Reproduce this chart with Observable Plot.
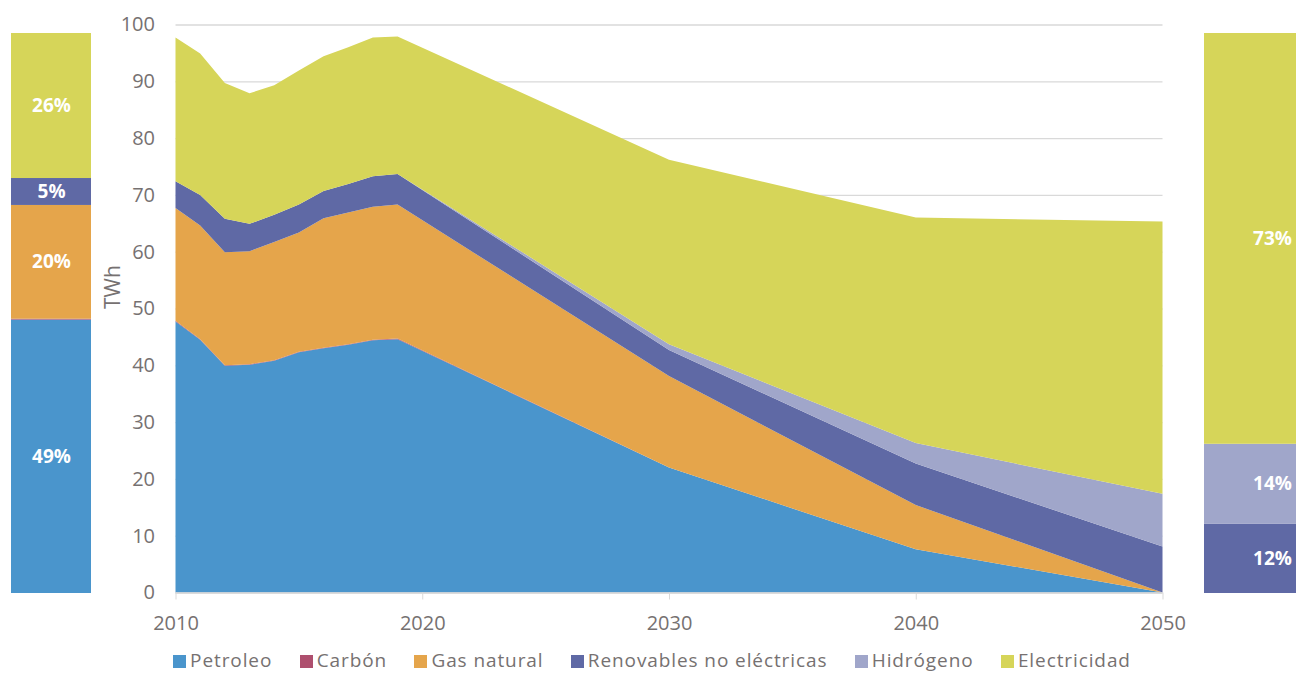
<!DOCTYPE html>
<html>
<head>
<meta charset="utf-8">
<script src="https://cdn.jsdelivr.net/npm/d3@7"></script>
<script src="https://cdn.jsdelivr.net/npm/@observablehq/plot@0.6"></script>
<style>
  html, body { margin: 0; padding: 0; background: #fff; }
  #wrap { position: relative; width: 1296px; height: 673px; overflow: hidden; font-family: "Open Sans", sans-serif; }
  #main { position: absolute; left: 0; top: 0; width: 1296px; }
  #left { position: absolute; left: 11px; top: 33px; width: 80px; }
  #right { position: absolute; left: 1204px; top: 33px; width: 136px; }
  #wrap svg { max-width: none !important; }
  #legend { position: absolute; left: 4px; top: 647px; width: 1296px; display: flex; justify-content: center;
            font-family: "Open Sans", sans-serif; font-size: 19px; letter-spacing: 0.9px; color: #767171; }
  .item { display: flex; align-items: center; margin: 0 13.7px; white-space: nowrap; }
  .sw { width: 13px; height: 13px; margin-right: 4px; margin-top: 3px; }
</style>
</head>
<body>
<div id="wrap">
  <div id="main"></div>
  <div id="left"></div>
  <div id="right"></div>
  <div id="legend"></div>
</div>
<script>
// ---- data ----
const years = [2010, 2011, 2012, 2013, 2014, 2015, 2016, 2017, 2018, 2019, 2030, 2040, 2050];
const sources = ["Petroleo", "Carbón", "Gas natural", "Renovables no eléctricas", "Hidrógeno", "Electricidad"];
const colors = ["#4A95CC", "#AE4F6E", "#E5A54B", "#5F69A5", "#A0A6CA", "#D6D559"];
const petroleo     = [47.7, 44.5, 39.9, 40.1, 40.8, 42.3, 43.0, 43.6, 44.4, 44.6, 22.0, 7.6, 0.0];
const carbon       = [0.15, 0.1, 0.1, 0.1, 0.1, 0.1, 0.1, 0.1, 0.1, 0.1, 0.0, 0.0, 0.0];
const gasNatural   = [19.85, 20.0, 19.9, 19.9, 20.8, 21.0, 22.8, 23.2, 23.4, 23.6, 16.1, 7.8, 0.0];
const renovables   = [4.7, 5.4, 5.9, 4.8, 4.8, 4.9, 4.8, 5.0, 5.4, 5.4, 4.6, 7.3, 8.1];
const hidrogeno    = [0.0, 0.0, 0.0, 0.0, 0.0, 0.0, 0.0, 0.0, 0.0, 0.0, 1.0, 3.6, 9.3];
const electricidad = [25.3, 24.9, 23.9, 23.0, 22.8, 23.6, 23.7, 24.1, 24.4, 24.2, 32.5, 39.7, 47.9];
const xTicks = [2010, 2020, 2030, 2040, 2050];
const yTicks = [0, 10, 20, 30, 40, 50, 60, 70, 80, 90, 100];
const yLabel = "TWh";

const series = [petroleo, carbon, gasNatural, renovables, hidrogeno, electricidad];
const long = years.flatMap((yr, i) => sources.map((s, j) => ({year: yr, source: s, value: series[j][i]})));

const gray = "#767171";
const gridColor = "#D9D9D9";

const main = Plot.plot({
  width: 1296, height: 640,
  marginLeft: 175.5, marginRight: 133.5, marginTop: 24.5, marginBottom: 47.5,
  style: {fontFamily: "Open Sans, sans-serif", fontSize: "20px", color: gray, background: "transparent"},
  x: {domain: [2010, 2050], label: null},
  y: {domain: [0, 100], label: null},
  color: {domain: sources, range: colors},
  marks: [
    Plot.gridY(yTicks, {stroke: gridColor, strokeOpacity: 1, strokeWidth: 1.3}),
    Plot.areaY(long, {x: "year", y: "value", fill: "source"}),
    Plot.ruleY([0], {stroke: gridColor, strokeWidth: 1.3}),
    Plot.axisX(xTicks, {tickSize: 7, tickPadding: 16, stroke: gridColor, tickFormat: d => String(d), label: null, fontSize: 20}),
    Plot.axisY(yTicks, {tickSize: 0, tickPadding: 21, label: null, fontSize: 20}),
    Plot.text([yLabel], {frameAnchor: "left", dx: -63, rotate: -90, fill: gray, fontSize: 21, text: d => d})
  ]
});
document.getElementById("main").appendChild(main);

function sideBar(idx, w) {
  const total = d3.sum(series, s => s[idx]);
  const d = sources.map((s, j) => ({source: s, share: series[j][idx] / total * 100}));
  return Plot.plot({
    width: w, height: 560, margin: 0,
    style: {background: "transparent"},
    y: {domain: [0, 100], axis: null},
    color: {domain: sources, range: colors},
    marks: [
      Plot.barY(d, {y: "share", fill: "source"}),
      Plot.text(d, Plot.stackY({y: "share", text: d => d.share >= 2 ? Math.round(d.share) + "%" : "",
        fill: "white", fontWeight: "bold", fontSize: 19, fontFamily: "Open Sans, sans-serif"}))
    ]
  });
}
document.getElementById("left").appendChild(sideBar(0, 80));
document.getElementById("right").appendChild(sideBar(years.length - 1, 136));

const legend = document.getElementById("legend");
sources.forEach((s, j) => {
  const it = document.createElement("div");
  it.className = "item";
  const sw = document.createElement("span");
  sw.className = "sw";
  sw.style.background = colors[j];
  const t = document.createElement("span");
  t.textContent = s;
  it.appendChild(sw); it.appendChild(t);
  legend.appendChild(it);
});
</script>
</body>
</html>
